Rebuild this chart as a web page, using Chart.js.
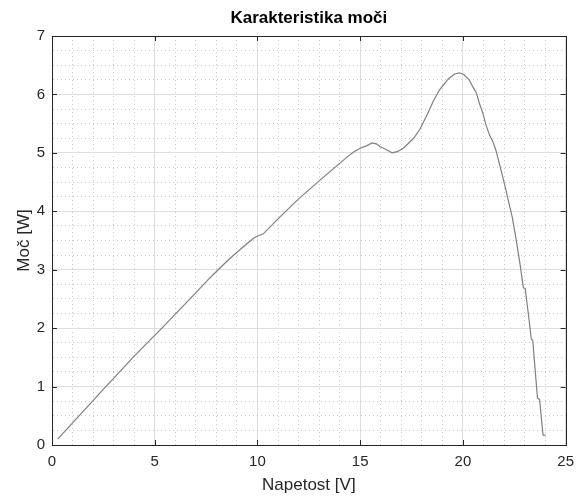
<!DOCTYPE html>
<html>
<head>
<meta charset="utf-8">
<script src="https://cdn.jsdelivr.net/npm/chart.js@4"></script>
<style>
  html, body { margin: 0; padding: 0; background: #fff; }
  #wrap { width: 582px; height: 496px; }
</style>
</head>
<body>
<div id="wrap"><canvas id="powerChart" width="582" height="496"></canvas></div>
<script>
// measured values
const voltage = [0.28, 1.0, 2.0, 2.54, 2.92, 4.0, 5.35, 6.0, 6.88, 7.6, 8.0, 8.5, 9.0, 9.5, 9.86, 10.1, 10.27,
    11.0, 11.96, 12.52, 13.2, 13.9, 14.4, 14.7, 15.0, 15.3, 15.58, 15.82, 15.95, 16.14, 16.35, 16.55,
    16.8, 17.1, 17.6, 17.9, 18.24, 18.55, 18.86, 19.3, 19.6, 19.83, 20.05, 20.3, 20.45, 20.65, 20.8,
    20.95, 21.13, 21.3, 21.45, 21.6, 21.8, 22.0, 22.2, 22.4, 22.55, 22.67, 22.8, 22.94, 23.03, 23.2,
    23.33, 23.4, 23.5, 23.63, 23.73, 23.82, 23.9, 24.03];
const power = [0.1, 0.38, 0.76, 0.97, 1.11, 1.52, 2.0, 2.24, 2.56, 2.83, 2.97, 3.14, 3.3, 3.45, 3.55, 3.59, 3.61,
    3.87, 4.2, 4.37, 4.58, 4.79, 4.94, 5.02, 5.08, 5.12, 5.17, 5.15, 5.11, 5.08, 5.04, 5.0,
    5.02, 5.08, 5.25, 5.4, 5.64, 5.88, 6.08, 6.27, 6.35, 6.37, 6.34, 6.25, 6.15, 6.03, 5.85,
    5.7, 5.47, 5.3, 5.2, 5.05, 4.78, 4.5, 4.2, 3.9, 3.6, 3.34, 3.05, 2.69, 2.68, 2.2,
    1.81, 1.79, 1.35, 0.8, 0.78, 0.45, 0.17, 0.17];

const xMajor = [0, 5, 10, 15, 20, 25];
const yMajor = [0, 1, 2, 3, 4, 5, 6, 7];

const titleText = 'Karakteristika moči';
const xTitle = 'Napetost [V]';
const yTitle = 'Moč [W]';

const axisColor = '#262626';
const majorGrid = '#dedede';
const minorGrid = '#c8c8c8';

function isMajor(v, list) {
    return list.some(m => Math.abs(m - v) < 1e-6);
}

// frame, inward tick marks and title, like the matlab figure
const framePlugin = {
    id: 'frame',
    afterDraw(chart) {
        const { ctx, chartArea: a, scales } = chart;
        ctx.save();
        ctx.strokeStyle = axisColor;
        ctx.lineWidth = 1;
        ctx.strokeRect(Math.round(a.left) + 0.5, Math.round(a.top) + 0.5,
            Math.round(a.right - a.left), Math.round(a.bottom - a.top));
        ctx.beginPath();
        xMajor.forEach(v => {
            const px = Math.round(scales.x.getPixelForValue(v)) + 0.5;
            ctx.moveTo(px, a.bottom); ctx.lineTo(px, a.bottom - 5);
            ctx.moveTo(px, a.top); ctx.lineTo(px, a.top + 5);
        });
        yMajor.forEach(v => {
            const py = Math.round(scales.y.getPixelForValue(v)) + 0.5;
            ctx.moveTo(a.left, py); ctx.lineTo(a.left + 5, py);
            ctx.moveTo(a.right, py); ctx.lineTo(a.right - 5, py);
        });
        ctx.stroke();

        ctx.fillStyle = '#000';
        ctx.font = 'bold 17px "Liberation Sans", Arial, sans-serif';
        ctx.textAlign = 'center';
        ctx.textBaseline = 'middle';
        ctx.fillText(titleText, (a.left + a.right) / 2, 18);
        ctx.restore();
    }
};

const ctx = document.getElementById('powerChart').getContext('2d');
const powerChart = new Chart(ctx, {
    type: 'line',
    data: {
        datasets: [{
            data: voltage.map((v, i) => ({ x: v, y: power[i] })),
            borderColor: '#7f7f7f',
            borderWidth: 1.2,
            pointRadius: 0,
            tension: 0,
            fill: false
        }]
    },
    options: {
        responsive: false,
        animation: false,
        layout: { padding: { top: 36, right: 12, left: 0, bottom: 0 } },
        plugins: {
            legend: { display: false },
            tooltip: { enabled: false }
        },
        scales: {
            x: {
                type: 'linear',
                min: 0,
                max: 25,
                afterFit: s => { s.height = 51; },
                ticks: {
                    stepSize: 1,
                    autoSkip: false,
                    maxRotation: 0,
                    padding: 8,
                    color: axisColor,
                    font: { family: '"Liberation Sans", Arial, sans-serif', size: 15 },
                    callback: v => isMajor(v, xMajor) ? v : ''
                },
                grid: {
                    drawTicks: false,
                    color: c => isMajor(c.tick.value, xMajor) ? majorGrid : minorGrid
                },
                border: {
                    color: axisColor,
                    dash: c => (c.tick && isMajor(c.tick.value, xMajor)) ? [] : [1, 3]
                },
                title: {
                    display: true,
                    text: xTitle,
                    color: axisColor,
                    padding: { top: 0, bottom: 0 },
                    font: { family: '"Liberation Sans", Arial, sans-serif', size: 17 }
                }
            },
            y: {
                type: 'linear',
                min: 0,
                max: 7,
                afterFit: s => { s.width = 52; },
                ticks: {
                    stepSize: 0.25,
                    autoSkip: false,
                    padding: 7,
                    color: axisColor,
                    font: { family: '"Liberation Sans", Arial, sans-serif', size: 15 },
                    callback: v => isMajor(v, yMajor) ? v : ''
                },
                grid: {
                    drawTicks: false,
                    color: c => isMajor(c.tick.value, yMajor) ? majorGrid : minorGrid
                },
                border: {
                    color: axisColor,
                    dash: c => (c.tick && isMajor(c.tick.value, yMajor)) ? [] : [1, 3]
                },
                title: {
                    display: true,
                    text: yTitle,
                    color: axisColor,
                    padding: { top: 14, bottom: 0 },
                    font: { family: '"Liberation Sans", Arial, sans-serif', size: 17 }
                }
            }
        }
    },
    plugins: [framePlugin]
});
</script>
</body>
</html>
